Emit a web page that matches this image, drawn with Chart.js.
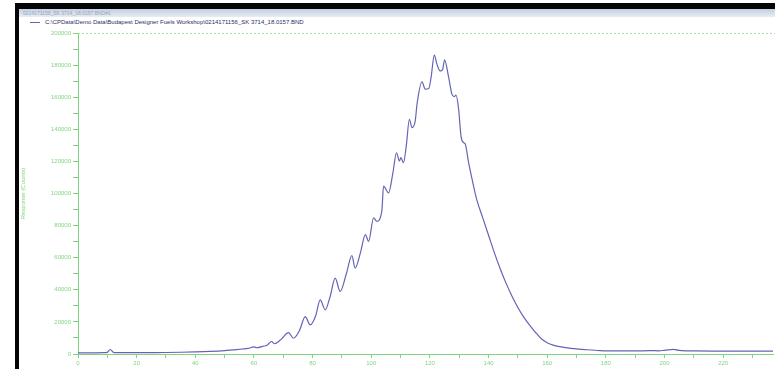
<!DOCTYPE html>
<html>
<head>
<meta charset="utf-8">
<script src="https://cdn.jsdelivr.net/npm/chart.js@4/dist/chart.umd.min.js"></script>
<style>
  html, body { margin: 0; padding: 0; background: #ffffff; }
  #page { position: relative; width: 775px; height: 369px; overflow: hidden; background: #ffffff; font-family: "Liberation Sans", Arial, sans-serif; }
  .frameTop { position: absolute; left: 15px; top: 3px; width: 760px; height: 6px; background: #050505; }
  .frameLeft { position: absolute; left: 15px; top: 3px; width: 4px; height: 366px; background: #050505; }
  .titlebar { position: absolute; left: 19px; top: 9px; width: 756px; height: 8px;
              background: linear-gradient(#c3d0e2, #e6ecf4); color: #9aa5b8; font-size: 5px; line-height: 8px; padding-left: 4px; box-sizing: border-box; white-space: nowrap; }
  .legend { position: absolute; left: 30px; top: 18px; height: 8px; font-size: 6px; line-height: 8px; color: #2a2f6a; white-space: nowrap; }
  .legend .swatch { display: inline-block; width: 10px; height: 1px; background: #6464b4; vertical-align: middle; margin-right: 5px; }
  canvas { position: absolute; left: 20px; top: 17px; }
</style>
</head>
<body>
<div id="page">
  <div class="titlebar">0214171156_SK 3714_18.0157.BND#1</div>
  <div class="frameTop"></div>
  <div class="frameLeft"></div>
  <div class="legend"><span class="swatch"></span>C:\CPData\Demo Data\Budapest Designer Fuels Workshop\0214171156_SK 3714_18.0157.BND</div>
  <canvas id="c" width="755" height="352"></canvas>
</div>
<script>
// Retention axis positions of the trace samples
const retention = [
  0, 3, 6, 9, 10, 11, 12, 13, 16, 20, 25, 30, 35, 40, 45, 50, 53, 56, 58, 60,
  61, 63, 64.5, 66, 67, 69, 71.8, 73.5, 75.5, 77.5, 79.2, 81, 82.6, 84.3, 86, 87.7,
  89.4, 91.5, 93.4, 94.5, 96.3, 98, 99.1, 100.8, 101.9, 103.6, 104.2, 105.9, 107.4, 108.6,
  109.6, 110.1, 111, 112, 113, 113.9, 115, 115.6, 117.3, 118.4, 119.6, 120.4, 121.5, 122.4,
  123.5, 124.3, 125, 126.4, 127.5, 128.3, 128.9, 129.8, 130.6, 131.5, 132.1, 133.2, 134.4,
  136, 138, 140, 142, 144, 146, 148, 150, 152, 154, 156, 158, 160, 162, 165, 168, 172,
  178, 185, 190, 195, 198, 200, 203, 205, 210, 220, 230, 237
];
// Detector response at each sample
const response = [
  700, 700, 750, 800, 1000, 2800, 1100, 800, 800, 850, 900, 950, 1100, 1300, 1600, 2100, 2600, 3100, 3500, 4400,
  3900, 4800, 5500, 7800, 6400, 8700, 13300, 9800, 14500, 23300, 18100, 23500, 33750, 27500, 36000, 47300,
  39000, 50000, 61250, 53500, 63000, 74400, 70200, 84800, 82700, 89000, 104600, 100400, 113000, 125400,
  120200, 122300, 119200, 130600, 146250, 141000, 145200, 155600, 169600, 165000, 165400, 172300, 186250, 180600,
  176400, 177000, 183300, 172300, 161900, 160400, 161250, 152500, 135800, 131700, 130600, 119200, 108750,
  96000, 85000, 74000, 63000, 53000, 44000, 36000, 29000, 23000, 18000, 13500, 9500, 7000, 5500, 4400, 3500, 2900,
  2100, 1900, 1900, 2100, 2000, 2300, 2900, 2200, 1900, 1800, 1800, 1800
];
// Axis ranges and labelled tick spacing
const xRange = [0, 237];
const yRange = [0, 200000];
const xLabelEvery = 20;
const yLabelEvery = 20000;
const yTitle = 'Response (Counts)';

const green = '#7fd47f';
const traceColor = '#6464b4';

const topBorder = {
  id: 'topBorder',
  afterDraw(chart) {
    const { ctx, chartArea } = chart;
    ctx.save();
    ctx.strokeStyle = '#a6dea6';
    ctx.lineWidth = 1;
    ctx.setLineDash([2, 2]);
    ctx.beginPath();
    ctx.moveTo(chartArea.left, chartArea.top + 0.5);
    ctx.lineTo(chart.width, chartArea.top + 0.5);
    ctx.stroke();
    ctx.restore();
  }
};

new Chart(document.getElementById('c'), {
  type: 'line',
  data: {
    datasets: [{
      data: retention.map((x, i) => ({ x, y: response[i] })),
      borderColor: traceColor,
      borderWidth: 1.2,
      pointRadius: 0,
      cubicInterpolationMode: 'monotone',
      fill: false
    }]
  },
  options: {
    responsive: false,
    animation: false,
    layout: { padding: { left: 0, top: 16, right: 2, bottom: 0 } },
    plugins: { legend: { display: false }, tooltip: { enabled: false } },
    scales: {
      x: {
        type: 'linear',
        min: xRange[0],
        max: xRange[1],
        afterBuildTicks: s => { s.ticks = s.ticks.filter(t => t.value % 10 === 0); },
        afterFit: s => { s.height = 15; },
        ticks: {
          stepSize: 10,
          autoSkip: false,
          maxRotation: 0,
          padding: 2,
          color: green,
          font: { family: 'Liberation Sans', size: 6 },
          callback: v => (v % xLabelEvery === 0 ? v : '')
        },
        grid: { drawOnChartArea: false, tickLength: 4, color: green },
        border: { color: green }
      },
      y: {
        min: yRange[0],
        max: yRange[1],
        afterBuildTicks: s => { s.ticks = s.ticks.filter(t => t.value % 10000 === 0); },
        afterFit: s => { s.width = 58; },
        ticks: {
          stepSize: 10000,
          autoSkip: false,
          padding: 2,
          color: green,
          font: { family: 'Liberation Sans', size: 6 },
          callback: v => (v % yLabelEvery === 0 ? v : '')
        },
        title: {
          display: true,
          text: yTitle,
          color: green,
          font: { family: 'Liberation Sans', size: 6 },
          padding: { top: 0, bottom: 0 }
        },
        grid: { drawOnChartArea: false, tickLength: 5, color: green },
        border: { color: green }
      }
    }
  },
  plugins: [topBorder]
});
</script>
</body>
</html>
